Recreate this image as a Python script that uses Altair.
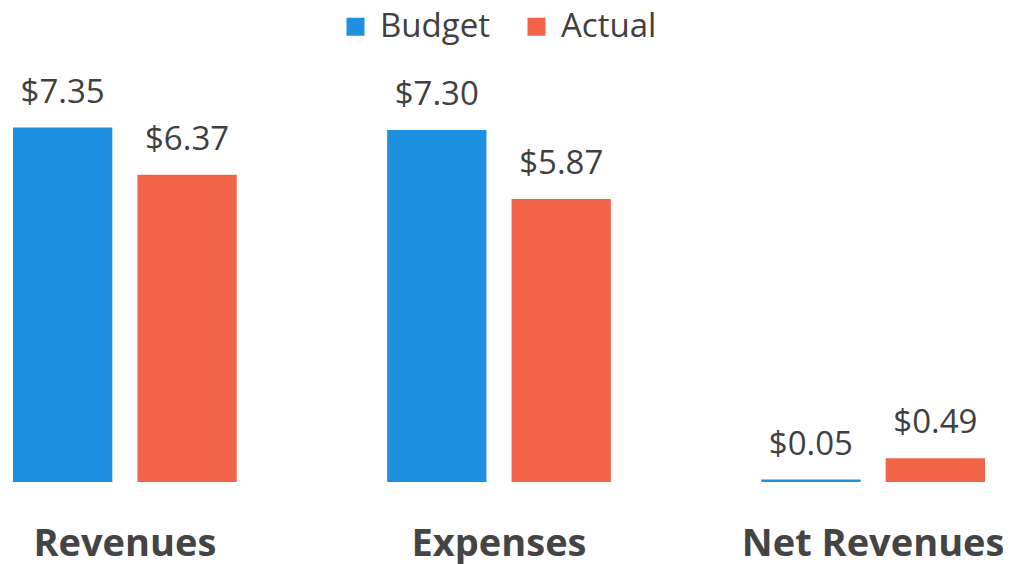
import altair as alt
import pandas as pd

categories = ["Revenues", "Expenses", "Net Revenues"]
series = ["Budget", "Actual"]
budget = [7.35, 7.30, 0.05]
actual = [6.37, 5.87, 0.49]
colors = ["#1f8fe0", "#f26447"]

rows = []
for c, b, a in zip(categories, budget, actual):
    rows.append({"category": c, "series": "Budget", "value": b})
    rows.append({"category": c, "series": "Actual", "value": a})
df = pd.DataFrame(rows)

x = alt.X("category:N", sort=categories,
          scale=alt.Scale(paddingInner=0.402, paddingOuter=0),
          axis=alt.Axis(title=None, labelAngle=0, labelFontSize=38, labelFontWeight="bold",
                        labelColor="#444444", labelPadding=73, labelBaseline="alphabetic",
                        labelLimit=0, ticks=False, domain=False, labelFont="Open Sans"))
xo = alt.XOffset("series:N", sort=series,
                 scale=alt.Scale(paddingInner=0.202, paddingOuter=0))
y = alt.Y("value:Q", scale=alt.Scale(domain=[0, 9], nice=False), axis=None)
color = alt.Color("series:N", sort=series,
                  scale=alt.Scale(domain=series, range=colors),
                  legend=alt.Legend(title=None, orient="none", legendX=326, legendY=-38,
                                    direction="horizontal", symbolType="square",
                                    symbolSize=324, symbolStrokeWidth=0, labelFontSize=33,
                                    labelColor="#404040", labelFont="Open Sans",
                                    labelOffset=8, columnPadding=30))

bars = alt.Chart(df).mark_bar().encode(x=x, xOffset=xo, y=y, color=color)
text = alt.Chart(df).mark_text(baseline="alphabetic", dy=-25, fontSize=33,
                               color="#404040", font="Open Sans").encode(
    x=x, xOffset=xo, y=y, text=alt.Text("value:Q", format="$.2f"))

chart = (bars + text).properties(
    width=972, height=434,
    padding={"left": 5, "top": 40, "right": 18, "bottom": 82},
    autosize="none",
).configure(font="Open Sans").configure_view(strokeWidth=0, stroke=None)

chart.save("out.html", embed_options={"renderer": "svg", "actions": False})
